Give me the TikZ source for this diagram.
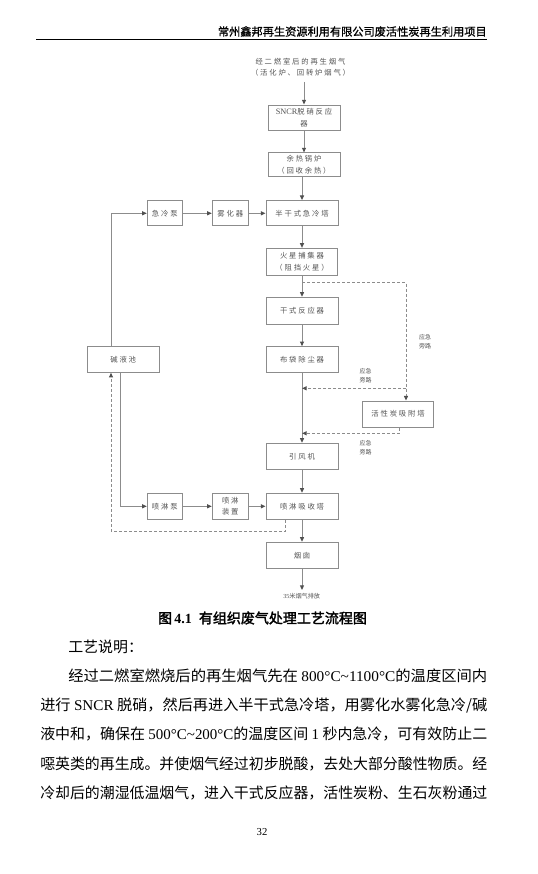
\documentclass[tikz,border=0pt]{standalone}
\usepackage{fontspec}
\usepackage{graphicx}
\setmainfont{Liberation Serif}
\newfontfamily\cjk{Noto Sans CJK SC}
\newfontfamily\cjkb[FakeBold=2]{Noto Sans CJK SC}
\newfontfamily\cjkh[FakeBold=1]{Noto Sans CJK SC}
\newfontfamily\cjkd[LetterSpace=25]{Noto Sans CJK SC}
\usetikzlibrary{arrows.meta}
\definecolor{dline}{HTML}{8C8C8C}
\definecolor{dtext}{HTML}{555555}
\definecolor{darr}{HTML}{505050}
\newcommand{\bodyf}{\cjk\fontsize{11.2pt}{14pt}\selectfont}
\tikzset{
  bx/.style={draw=dline, line width=0.75pt, fill=white, text=dtext,
    font=\cjkd\fontsize{5.5pt}{8.8pt}\selectfont, inner sep=0pt, align=center},
  ln/.style={draw=dline, line width=0.75pt, -{Triangle[length=3.5pt,width=3pt,color=darr]}},
  dln/.style={ln, dash pattern=on 2.25pt off 1.5pt},
  lbl/.style={text=dtext, font=\cjk\fontsize{4.5pt}{6.75pt}\selectfont, inner sep=0pt, align=center},
  body/.style={anchor=west, inner sep=0pt, text=black}
}
\begin{document}
\begin{tikzpicture}[x=0.75pt,y=-0.75pt]
\useasboundingbox (0,0) rectangle (538,874);
\fill[white] (0,0) rectangle (538,874);
% header
\node[anchor=east, inner sep=0pt, font=\cjkh\fontsize{8.4pt}{10pt}\selectfont] (hdr) at (487,31.5) {常州鑫邦再生资源利用有限公司废活性炭再生利用项目};
\coordinate (r1) at (36,39.3);
\coordinate (r2) at (487,39.3);
\draw[line width=0.8pt] (r1) -- (r2);
% source
\node[lbl, font=\cjkd\fontsize{5.5pt}{8pt}\selectfont] (src) at (300.5,67) {经二燃室后的再生烟气\\（活化炉、回转炉烟气）};
% boxes
\node[bx, minimum width=54pt, minimum height=18.75pt] (sncr) at (304,117.5) {{\rmfamily\fontsize{6.2pt}{8pt}\selectfont\color{darr}SNCR}脱硝反应\\器};
\node[bx, minimum width=54pt, minimum height=17.5pt] (yure) at (304,164.6) {余热锅炉\\（回收余热）};
\node[bx, minimum width=54pt, minimum height=19pt] (bgs) at (302,213.3) {半干式急冷塔};
\node[bx, minimum width=26.25pt, minimum height=19pt] (jlb) at (164.8,213.3) {急冷泵};
\node[bx, minimum width=27pt, minimum height=19pt] (whq) at (230.3,213.3) {雾化器};
\node[bx, minimum width=53.25pt, minimum height=20pt] (hx) at (302,261.7) {火星捕集器\\（阻挡火星）};
\node[bx, minimum width=54pt, minimum height=20.25pt] (gs) at (302,310.8) {干式反应器};
\node[bx, minimum width=54pt, minimum height=19.2pt] (bd) at (302,359.5) {布袋除尘器};
\node[bx, minimum width=53.8pt, minimum height=19.2pt] (jyc) at (123.2,359.5) {碱液池};
\node[bx, minimum width=53pt, minimum height=19.7pt] (hxt) at (398,414.2) {活性炭吸附塔};
\node[bx, minimum width=54pt, minimum height=19.5pt] (yfj) at (302,456.3) {引风机};
\node[bx, minimum width=54pt, minimum height=19.5pt] (plt) at (302,506.3) {喷淋吸收塔};
\node[bx, minimum width=26.25pt, minimum height=19.5pt] (plb) at (164.8,506.3) {喷淋泵};
\node[bx, minimum width=27pt, minimum height=19.5pt] (plz) at (230.3,506.3) {喷淋\\装置};
\node[bx, minimum width=54pt, minimum height=19.5pt] (yc) at (302,555.3) {烟囱};
% labels
\node[lbl] (lb1) at (425,341.2) {应急\\旁路};
\node[lbl] (lb2) at (365.5,376) {应急\\旁路};
\node[lbl] (lb3) at (365.5,447.5) {应急\\旁路};
\node[lbl, font=\cjk\fontsize{4.6pt}{6pt}\selectfont] (out) at (301.7,596.5) {{\rmfamily 35}米烟气排放};
% coordinates
\coordinate (s0) at (304,82);
\coordinate (L1) at (111,213.3);
\coordinate (d1) at (302,282.5);
\coordinate (d2) at (406,282.5);
\coordinate (d3) at (406,388.3);
\coordinate (d4) at (302,388.3);
\coordinate (d5) at (399.3,433.3);
\coordinate (d6) at (302,433.3);
\coordinate (L2) at (120.7,506.3);
\coordinate (p1) at (285.7,531);
\coordinate (p2) at (111,531);
\coordinate (e1) at (302,590);
% connectors
\draw[ln] (s0) -- (sncr.north);
\draw[ln] (sncr.south) -- (yure.north);
\draw[ln] (yure.south -| bgs.north) -- (bgs.north);
\draw[ln] (jlb.east) -- (whq.west);
\draw[ln] (whq.east) -- (bgs.west);
\draw[ln] (jyc.north -| L1) -- (L1) -- (jlb.west);
\draw[ln] (bgs.south) -- (hx.north);
\draw[ln] (hx.south) -- (gs.north);
\draw[dln] (d1) -- (d2) -- (d2 |- hxt.north);
\draw[ln] (gs.south) -- (bd.north);
\draw[ln] (bd.south) -- (yfj.north);
\draw[dln] (d3) -- (d4);
\draw[dln] (hxt.south -| d5) -- (d5) -- (d6);
\draw[ln] (yfj.south) -- (plt.north);
\draw[ln] (jyc.south -| L2) -- (L2) -- (plb.west);
\draw[ln] (plb.east) -- (plz.west);
\draw[ln] (plz.east) -- (plt.west);
\draw[dln] (plt.south -| p1) -- (p1) -- (p2) -- (jyc.south -| p2);
\draw[ln] (plt.south) -- (yc.north);
\draw[ln] (yc.south) -- (e1);
% caption
\node[inner sep=0pt, font=\fontsize{10.5pt}{12pt}\selectfont] (cap) at (262.5,618) {{\cjkb 图}\,{\bfseries 4.1}\enspace{\cjkb 有组织废气处理工艺流程图}};
% body
\node[body] (t1) at (68,647) {\bodyf 工艺说明：};
\node[body] (t2) at (68,675.5) {\resizebox{314.25pt}{\height}{\bodyf 经过二燃室燃烧后的再生烟气先在 {\rmfamily 800°C\textasciitilde1100°C}的温度区间内}};
\node[body] (t3) at (40,705) {\resizebox{335.25pt}{\height}{\bodyf 进行 {\rmfamily SNCR} 脱硝，然后再进入半干式急冷塔，用雾化水雾化急冷/碱}};
\node[body] (t4) at (40,734) {\resizebox{335.25pt}{\height}{\bodyf 液中和，确保在 {\rmfamily 500°C\textasciitilde200°C}的温度区间 {\rmfamily 1} 秒内急冷，可有效防止二}};
\node[body] (t5) at (40,763.5) {\resizebox{335.25pt}{\height}{\bodyf 噁英类的再生成。并使烟气经过初步脱酸，去处大部分酸性物质。经}};
\node[body] (t6) at (40,793) {\resizebox{335.25pt}{\height}{\bodyf 冷却后的潮湿低温烟气，进入干式反应器，活性炭粉、生石灰粉通过}};
\node[inner sep=0pt, font=\fontsize{8pt}{10pt}\selectfont] (pg) at (262,832) {32};
\end{tikzpicture}
\end{document}
